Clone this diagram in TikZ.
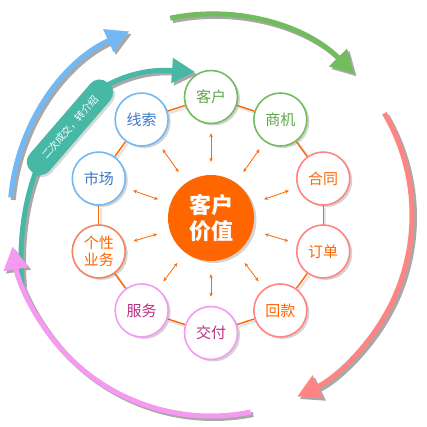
\documentclass[tikz,border=0pt]{standalone}
\usepackage{fontspec}
\newfontfamily\cjk{Noto Sans CJK SC}
\usetikzlibrary{arrows.meta,shadows}
\definecolor{chengse}{HTML}{FF6600}
\definecolor{lvse}{HTML}{72BC5E}
\definecolor{lvzi}{HTML}{5EA848}
\definecolor{fenhong}{HTML}{FF8585}
\definecolor{fenzi}{HTML}{F59AF0}
\definecolor{zihong}{HTML}{B8307E}
\definecolor{jucheng}{HTML}{F4845A}
\definecolor{lanse}{HTML}{72B8F4}
\definecolor{lanzi}{HTML}{3F78C6}
\definecolor{qinglv}{HTML}{48B8A6}
\definecolor{yinying}{HTML}{A8A8A8}
\pgfdeclarelayer{background}
\pgfsetlayers{background,main}
\begin{document}
\begin{tikzpicture}[x=1pt,y=1pt,
  yuan/.style={circle,draw,line width=1.6pt,fill=white,minimum size=53pt,inner sep=0pt,
    font=\cjk\fontsize{15}{18}\selectfont,
    drop shadow={shadow xshift=2.5pt,shadow yshift=-2pt,opacity=.35}},
  huxian/.style={line width=5pt,-{Triangle[width=24pt,length=23pt]}},
  lianxian/.style={draw=chengse,line width=1.4pt},
  xiaojian/.style={draw=chengse,line width=.8pt,
    {Stealth[length=4pt,width=3.5pt]}-{Stealth[length=4pt,width=3.5pt]},
    shorten <=13pt,shorten >=9pt}]
\useasboundingbox (-211,-212) rectangle (215,215);
% shadows of the outer cycle
\begin{scope}[transform canvas={shift={(2.5pt,-2.5pt)}}]
\draw[huxian,draw=yinying] (101.7:201) arc[start angle=101.7,end angle=44.6,radius=201pt];
\draw[huxian,draw=yinying] (30.4:201) arc[start angle=30.4,end angle=-64.6,radius=201pt];
\draw[huxian,draw=yinying] (-189,-70) .. controls (-200,70) and (-120,150) .. (-16,143);
\draw[huxian,draw=yinying] (-78.6:201) arc[start angle=-78.6,end angle=-171,radius=201pt];
\draw[huxian,draw=yinying] (175:201) arc[start angle=175,end angle=114,radius=201pt];
\end{scope}
% outer cycle
\draw[huxian,draw=lvse] (101.7:201) arc[start angle=101.7,end angle=44.6,radius=201pt];
\draw[huxian,draw=fenhong] (30.4:201) arc[start angle=30.4,end angle=-64.6,radius=201pt];
\draw[huxian,draw=qinglv] (-189,-70) .. controls (-200,70) and (-120,150) .. node[pos=.5,sloped,yshift=-6pt,rectangle,rounded corners=12pt,fill=qinglv,text=white,minimum width=117pt,minimum height=26pt,font=\cjk\fontsize{10}{12}\selectfont,drop shadow={shadow xshift=2pt,shadow yshift=-2pt,opacity=.3}] (biaoqian) {二次成交，转介绍} (-16,143);
\draw[huxian,draw=fenzi] (-78.6:201) arc[start angle=-78.6,end angle=-171,radius=201pt];
\draw[huxian,draw=lanse] (175:201) arc[start angle=175,end angle=114,radius=201pt];
% ring
\node[yuan,draw=lvse,text=lvzi] (kehu) at (90:118) {客户};
\node[yuan,draw=lvse,text=lvzi] (shangji) at (54:118) {商机};
\node[yuan,draw=fenhong,text=chengse] (hetong) at (18:118) {合同};
\node[yuan,draw=fenhong,text=chengse] (dingdan) at (-18:118) {订单};
\node[yuan,draw=fenhong,text=chengse] (huikuan) at (-54:118) {回款};
\node[yuan,draw=fenzi,text=zihong] (jiaofu) at (-90:118) {交付};
\node[yuan,draw=fenzi,text=zihong] (fuwu) at (-126:118) {服务};
\node[yuan,draw=jucheng,text=chengse,align=center,font=\cjk\fontsize{15}{17}\selectfont] (gexing) at (-162:118) {个性\\业务};
\node[yuan,draw=lanse,text=lanzi] (shichang) at (162:118) {市场};
\node[yuan,draw=lanse,text=lanzi] (xiansuo) at (126:118) {线索};
\node[circle,fill=chengse,minimum size=86pt,inner sep=0pt,text=white,align=center,
  font=\cjk\bfseries\fontsize{22}{26}\selectfont,
  drop shadow={shadow xshift=2.5pt,shadow yshift=-2pt,opacity=.35}] (jiazhi) at (0,-3) {客户\\价值};
\begin{pgfonlayer}{background}
\begin{scope}[transform canvas={shift={(2pt,-2pt)}},lianxian/.append style={draw=black!10,line width=2.5pt}]
\draw[lianxian] (kehu) -- (shangji);
\draw[lianxian] (shangji) -- (hetong);
\draw[lianxian] (hetong) -- (dingdan);
\draw[lianxian] (dingdan) -- (huikuan);
\draw[lianxian] (huikuan) -- (jiaofu);
\draw[lianxian] (jiaofu) -- (fuwu);
\draw[lianxian] (fuwu) -- (gexing);
\draw[lianxian] (gexing) -- (shichang);
\draw[lianxian] (shichang) -- (xiansuo);
\draw[lianxian] (xiansuo) -- (kehu);
\end{scope}
\draw[lianxian] (kehu) -- (shangji);
\draw[lianxian] (shangji) -- (hetong);
\draw[lianxian] (hetong) -- (dingdan);
\draw[lianxian] (dingdan) -- (huikuan);
\draw[lianxian] (huikuan) -- (jiaofu);
\draw[lianxian] (jiaofu) -- (fuwu);
\draw[lianxian] (fuwu) -- (gexing);
\draw[lianxian] (gexing) -- (shichang);
\draw[lianxian] (shichang) -- (xiansuo);
\draw[lianxian] (xiansuo) -- (kehu);
\end{pgfonlayer}
% value arrows
\draw[xiaojian] (jiazhi) -- (kehu);
\draw[xiaojian] (jiazhi) -- (shangji);
\draw[xiaojian] (jiazhi) -- (hetong);
\draw[xiaojian] (jiazhi) -- (dingdan);
\draw[xiaojian] (jiazhi) -- (huikuan);
\draw[xiaojian] (jiazhi) -- (jiaofu);
\draw[xiaojian] (jiazhi) -- (fuwu);
\draw[xiaojian] (jiazhi) -- (gexing);
\draw[xiaojian] (jiazhi) -- (shichang);
\draw[xiaojian] (jiazhi) -- (xiansuo);
\end{tikzpicture}
\end{document}
